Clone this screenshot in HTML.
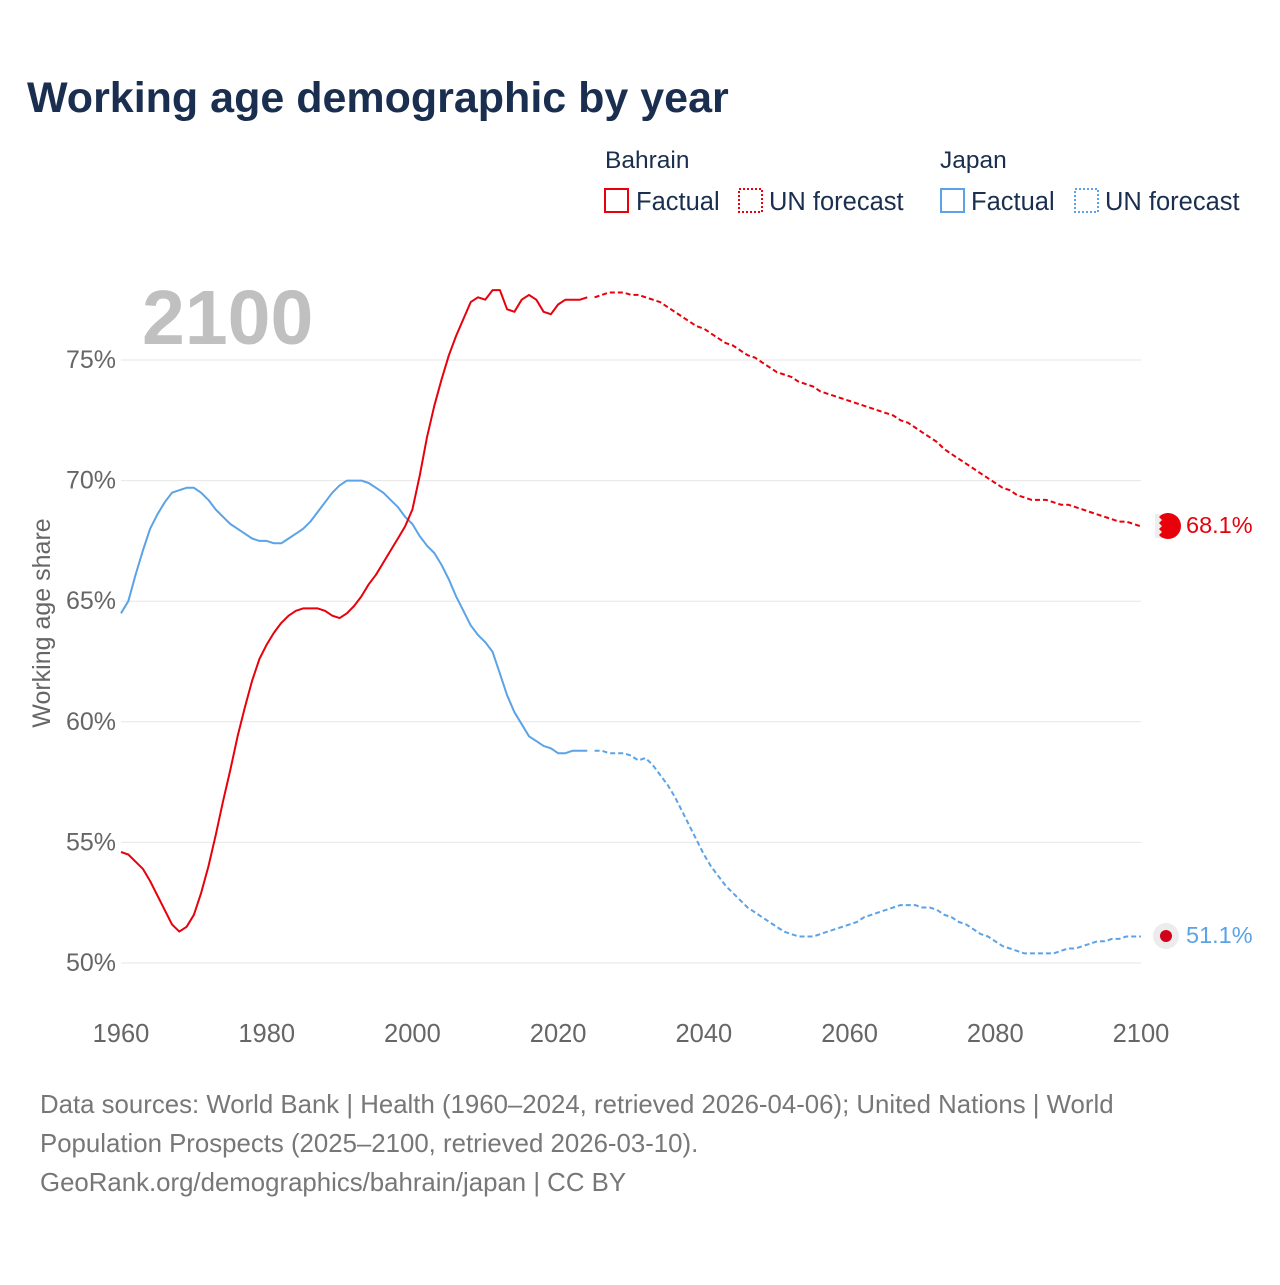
<!DOCTYPE html>
<html><head><meta charset="utf-8"><style>
body{margin:0;background:#fff;font-family:"Liberation Sans",sans-serif;}
svg text{font-family:"Liberation Sans",sans-serif;}
</style></head><body>
<svg width="1280" height="1280" viewBox="0 0 1280 1280">
<text x="27" y="112" font-size="43" font-weight="bold" fill="#1a2e4f">Working age demographic by year</text>
<g>
<text x="605" y="168" font-size="24.5" fill="#1a2e4f">Bahrain</text>
<text x="940" y="168" font-size="24.5" fill="#1a2e4f">Japan</text>
<g><rect x="605" y="189" width="23" height="23" fill="none" stroke="#e8000b" stroke-width="2"/><text x="636" y="210" font-size="25.5" fill="#1a2e4f">Factual</text></g>
<g><rect x="739" y="189" width="23" height="23" fill="none" stroke="#e8000b" stroke-width="2" stroke-dasharray="2,2"/><text x="769" y="210" font-size="25.5" fill="#1a2e4f">UN forecast</text></g>
<g><rect x="941" y="189" width="23" height="23" fill="none" stroke="#5ba3e6" stroke-width="2"/><text x="971" y="210" font-size="25.5" fill="#1a2e4f">Factual</text></g>
<g><rect x="1075" y="189" width="23" height="23" fill="none" stroke="#5ba3e6" stroke-width="2" stroke-dasharray="2,2"/><text x="1105" y="210" font-size="25.5" fill="#1a2e4f">UN forecast</text></g>
</g>
<text x="142" y="344" font-size="77" font-weight="bold" fill="#c0c0c0">2100</text>
<g id="grid"></g>
<g id="series"></g>
<text transform="translate(50,623) rotate(-90)" text-anchor="middle" font-size="25" fill="#666">Working age share</text>
<g>
<circle cx="1168" cy="526" r="13" fill="#e8000b"/>
<path d="M1155,514 h7 l-3,3 l3,3 l-3,3 l3,3 l-3,3 l3,3 l-3,3 l3,3 h-7 z" fill="#eee"/>
</g>
<text x="1186" y="533" font-size="23.5" fill="#e8000b">68.1%</text>
<g>
<circle cx="1166" cy="936" r="13" fill="#ececec"/><circle cx="1166" cy="936" r="6" fill="#d0021b"/>
</g>
<text x="1186" y="943" font-size="23.5" fill="#5ba3e6">51.1%</text>
<g font-size="25.8" fill="#777">
<text x="40" y="1113">Data sources: World Bank | Health (1960–2024, retrieved 2026-04-06); United Nations | World</text>
<text x="40" y="1152">Population Prospects (2025–2100, retrieved 2026-03-10).</text>
<text x="40" y="1191">GeoRank.org/demographics/bahrain/japan | CC BY</text>
</g>
</svg>
<script>
const yTicks=[50,55,60,65,70,75];
const xTicks=[1960,1980,2000,2020,2040,2060,2080,2100];
const bahrainFactual=[54.6,54.5,54.2,53.9,53.4,52.8,52.2,51.6,51.3,51.5,52.0,52.9,54.0,55.3,56.7,58.0,59.4,60.6,61.7,62.6,63.2,63.7,64.1,64.4,64.6,64.7,64.7,64.7,64.6,64.4,64.3,64.5,64.8,65.2,65.7,66.1,66.6,67.1,67.6,68.1,68.8,70.2,71.8,73.1,74.2,75.2,76.0,76.7,77.4,77.6,77.5,77.9,77.9,77.1,77.0,77.5,77.7,77.5,77.0,76.9,77.3,77.5,77.5,77.5,77.6];
const bahrainForecast=[77.6,77.7,77.8,77.8,77.8,77.7,77.7,77.6,77.5,77.4,77.2,77.0,76.8,76.6,76.4,76.3,76.1,75.9,75.7,75.6,75.4,75.2,75.1,74.9,74.7,74.5,74.4,74.3,74.1,74.0,73.9,73.7,73.6,73.5,73.4,73.3,73.2,73.1,73.0,72.9,72.8,72.7,72.5,72.4,72.2,72.0,71.8,71.6,71.3,71.1,70.9,70.7,70.5,70.3,70.1,69.9,69.7,69.6,69.4,69.3,69.2,69.2,69.2,69.1,69.0,69.0,68.9,68.8,68.7,68.6,68.5,68.4,68.3,68.3,68.2,68.1];
const japanFactual=[64.5,65.0,66.1,67.1,68.0,68.6,69.1,69.5,69.6,69.7,69.7,69.5,69.2,68.8,68.5,68.2,68.0,67.8,67.6,67.5,67.5,67.4,67.4,67.6,67.8,68.0,68.3,68.7,69.1,69.5,69.8,70.0,70.0,70.0,69.9,69.7,69.5,69.2,68.9,68.5,68.2,67.7,67.3,67.0,66.5,65.9,65.2,64.6,64.0,63.6,63.3,62.9,62.0,61.1,60.4,59.9,59.4,59.2,59.0,58.9,58.7,58.7,58.8,58.8,58.8];
const japanForecast=[58.8,58.8,58.7,58.7,58.7,58.6,58.4,58.5,58.2,57.8,57.4,56.9,56.3,55.7,55.1,54.5,54.0,53.6,53.2,52.9,52.6,52.3,52.1,51.9,51.7,51.5,51.3,51.2,51.1,51.1,51.1,51.2,51.3,51.4,51.5,51.6,51.7,51.9,52.0,52.1,52.2,52.3,52.4,52.4,52.4,52.3,52.3,52.2,52.0,51.9,51.7,51.6,51.4,51.2,51.1,50.9,50.7,50.6,50.5,50.4,50.4,50.4,50.4,50.4,50.5,50.6,50.6,50.7,50.8,50.9,50.9,51.0,51.0,51.1,51.1,51.1];
const NS='http://www.w3.org/2000/svg';
function xs(yr){return 121+(yr-1960)*(1020/140);}
function ys(v){return 963-(v-50)*24.12;}
const grid=document.getElementById('grid');
yTicks.forEach(t=>{
 const l=document.createElementNS(NS,'line');
 l.setAttribute('x1',121);l.setAttribute('x2',1141);l.setAttribute('y1',ys(t));l.setAttribute('y2',ys(t));
 l.setAttribute('stroke','#e6e6e6');l.setAttribute('stroke-width','1');
 
 
 grid.appendChild(l);
 const tx=document.createElementNS(NS,'text');
 tx.setAttribute('x',116);tx.setAttribute('y',ys(t)+8);tx.setAttribute('text-anchor','end');
 tx.setAttribute('font-size','25');tx.setAttribute('fill','#666');tx.textContent=t+'%';
 
 
 grid.appendChild(tx);
});
xTicks.forEach(t=>{
 const tx=document.createElementNS(NS,'text');
 tx.setAttribute('x',xs(t));tx.setAttribute('y',1042);tx.setAttribute('text-anchor','middle');
 tx.setAttribute('font-size','25.5');tx.setAttribute('fill','#666');tx.textContent=t;
 
 
 grid.appendChild(tx);
});
const ser=document.getElementById('series');
function line(vals,start,color,dash,name){
 const p=document.createElementNS(NS,'path');
 p.setAttribute('d',vals.map((v,i)=>(i?'L':'M')+xs(start+i).toFixed(1)+','+ys(v).toFixed(1)).join(''));
 p.setAttribute('fill','none');p.setAttribute('stroke',color);p.setAttribute('stroke-width','2');
 p.setAttribute('stroke-linejoin','round');
 if(dash)p.setAttribute('stroke-dasharray','5,3');
 
 
 ser.appendChild(p);
}
line(japanFactual,1960,'#5ba3e6',false,'japan-factual-line');
line(japanForecast,2025,'#5ba3e6',true,'japan-forecast-line');
line(bahrainFactual,1960,'#e8000b',false,'bahrain-factual-line');
line(bahrainForecast,2025,'#e8000b',true,'bahrain-forecast-line');
</script>
</body></html>
